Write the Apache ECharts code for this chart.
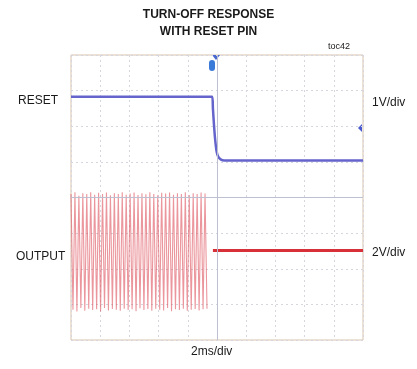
<!DOCTYPE html>
<html><head><meta charset="utf-8">
<script src="https://cdn.jsdelivr.net/npm/echarts@6/dist/echarts.min.js"></script>
<style>html,body{margin:0;padding:0;background:#fff}#c{width:417px;height:369px}</style>
</head><body><div id="c"></div>
<script>
// time in ms, levels in scope divisions (0 = bottom graticule line)
var xTicks = [-10, -8, -6, -4, -2, 0, 2, 4, 6, 8, 10];
var resetTime = [-10, -0.33, -0.28, -0.2, -0.12, -0.03, 0.08, 0.25, 0.5, 10];
var resetLevel = [6.83, 6.83, 6.5, 6.0, 5.6, 5.3, 5.15, 5.07, 5.04, 5.04];
var outputStart = -10;       // first sample time (ms)
var outputStep = 0.135;      // sample interval (ms)
var outputLevel = [4.1,0.85,4.15,0.8,4.05,0.9,4.12,0.82,4.1,0.88,4.15,0.84,4.08,0.86,4.13,0.8,4.1,0.9,4.14,0.83,4.06,0.87,4.12,0.85,4.1,0.82,4.15,0.88,4.08,0.84,4.11,0.86,4.14,0.81,4.07,0.89,
                   4.12,0.84,4.09,0.87,4.15,0.82,4.1,0.88,4.06,0.85,4.13,0.83,4.11,0.9,4.14,0.81,4.08,0.86,4.12,0.84,4.1,0.88,4.15,0.82,4.07,0.85,4.12,0.87,4.1,0.83,4.14,0.86,4.11,0.88];
var outputOffTime = [-0.28, 10];
var outputOffLevel = [2.51, 2.51];

var resetData = resetTime.map(function(t, i){ return [t, resetLevel[i]]; });
var outData = outputLevel.map(function(v, i){ return [outputStart + i * outputStep, v]; });
var offData = outputOffTime.map(function(t, i){ return [t, outputOffLevel[i]]; });

var chart = echarts.init(document.getElementById('c'), null, {renderer: 'canvas'});
var FF = 'Liberation Sans, Arial, sans-serif';
function t(text, left, top, size, bold) {
  return {type: 'text', left: left, top: top,
    style: {text: text, fontFamily: FF, fontSize: size, fontWeight: bold ? 'bold' : 'normal', fill: '#1a1a1a'}};
}
chart.setOption({
  animation: false,
  backgroundColor: '#fff',
  grid: {left: 71, top: 55, width: 292, height: 285, show: true, borderColor: '#d9c3ad', borderWidth: 1, backgroundColor: '#fff'},
  xAxis: {type: 'value', min: -10, max: 10, interval: 2,
    axisLine: {show: false}, axisTick: {show: false}, axisLabel: {show: false},
    splitLine: {show: true, lineStyle: {color: '#d6d6de', type: [2, 3], width: 1}}},
  yAxis: {type: 'value', min: 0, max: 8, interval: 1,
    axisLine: {show: false}, axisTick: {show: false}, axisLabel: {show: false},
    splitLine: {show: true, lineStyle: {color: '#d6d6de', type: [2, 3], width: 1}}},
  series: [
    {type: 'line', data: outData, symbol: 'none', silent: true,
     lineStyle: {color: 'rgba(222,80,92,0.6)', width: 1.1}, z: 2,
     markLine: {symbol: 'none', silent: true, label: {show: false},
       lineStyle: {color: '#bcc0d0', type: 'solid', width: 1},
       data: [{xAxis: 0}, {yAxis: 4}]}},
    {type: 'line', data: offData, symbol: 'none', silent: true,
     lineStyle: {color: '#d83038', width: 3}, z: 3},
    {type: 'line', data: resetData, symbol: 'none', silent: true, smooth: 0.25,
     lineStyle: {color: '#6464cc', width: 2.5}, z: 4}
  ],
  graphic: [
    {type: 'text', left: 'center', top: 9, style: {text: 'TURN-OFF RESPONSE', fontFamily: FF, fontSize: 12, fontWeight: 'bold', fill: '#1a1a1a'}},
    {type: 'text', left: 'center', top: 26, style: {text: 'WITH RESET PIN', fontFamily: FF, fontSize: 12, fontWeight: 'bold', fill: '#1a1a1a'}},
    t('toc42', 328, 42, 9, false),
    t('RESET', 18, 95, 12, false),
    t('OUTPUT', 16, 251, 12, false),
    t('1V/div', 372, 97, 12, false),
    t('2V/div', 372, 247, 12, false),
    t('2ms/div', 191, 346, 12, false),
    {type: 'polygon', shape: {points: [[212, 55], [220, 55], [216, 60]]}, style: {fill: '#4a6ad0'}},
    {type: 'rect', shape: {x: 209, y: 60, width: 6, height: 11, r: 3}, style: {fill: '#3a7ad8'}},
    {type: 'polygon', shape: {points: [[358, 128], [362, 124], [362, 132]]}, style: {fill: '#4a5ad0'}}
  ]
});
</script></body></html>
